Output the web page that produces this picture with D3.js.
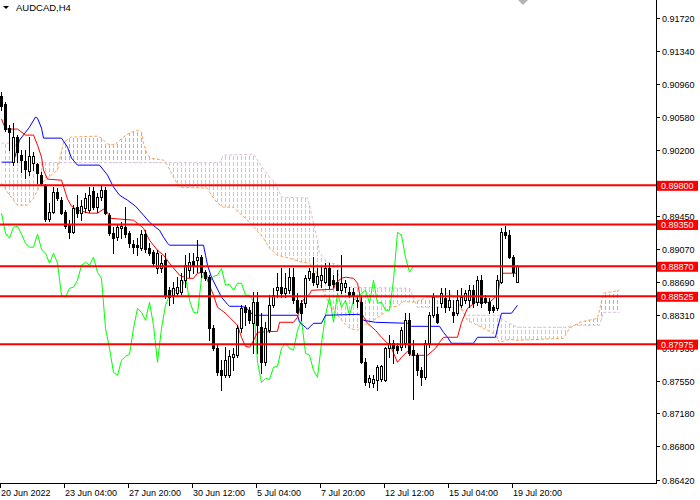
<!DOCTYPE html>
<html><head><meta charset="utf-8">
<script src="https://cdn.jsdelivr.net/npm/d3@7"></script>
<style>
html,body{margin:0;padding:0;background:#fff;}
svg{display:block;font-family:"Liberation Sans",Arial,sans-serif;}
</style></head>
<body>
<svg id="c" width="700" height="500"></svg>
<script>
// ---------------- DATA ----------------
const symbol = "AUDCAD,H4";
const dateLabels = ["20 Jun 2022","23 Jun 04:00","27 Jun 20:00","30 Jun 12:00","5 Jul 04:00","7 Jul 20:00","12 Jul 12:00","15 Jul 04:00","19 Jul 20:00"];
const dateLabelBars = [0,16,32,48,64,80,96,112,128];
const priceTicks = [0.91720,0.91340,0.90960,0.90580,0.90200,0.89450,0.89070,0.88690,0.88310,0.87930,0.87550,0.87180,0.86800,0.86420];
const levels = [0.89800,0.89350,0.88870,0.88525,0.87975];

const opens = [0.90825,0.90733,0.90457,0.90066,0.90354,0.90147,0.90078,0.89963,0.90055,0.90043,
0.89917,0.89802,0.89411,0.89491,0.89721,0.89629,0.89491,0.89353,0.89261,0.89549,
0.89480,0.89537,0.89514,0.89733,0.89549,0.89664,0.89744,0.89457,0.89250,0.89204,
0.89307,0.89319,0.89250,0.89123,0.89112,0.89077,0.89238,0.89077,0.89031,0.88847,
0.88847,0.88939,0.88594,0.88537,0.88560,0.88571,0.88709,0.88824,0.88928,0.88939,
0.88974,0.88801,0.88744,0.88157,0.87927,0.87674,0.87617,0.87617,0.87824,0.87847,
0.88157,0.88399,0.88364,0.88215,0.88456,0.88169,0.87766,0.88134,0.88422,0.88594,
0.88629,0.88560,0.88594,0.88744,0.88479,0.88445,0.88445,0.88732,0.88790,0.88663,
0.88709,0.88686,0.88847,0.88709,0.88686,0.88594,0.88629,0.88571,0.88571,0.88479,
0.88456,0.87766,0.87536,0.87525,0.87559,0.87571,0.87559,0.87927,0.87985,0.87950,
0.87939,0.87985,0.88249,0.87904,0.87847,0.87674,0.87594,0.87985,0.88307,0.88318,
0.88445,0.88502,0.88399,0.88341,0.88330,0.88422,0.88479,0.88479,0.88594,0.88456,
0.88709,0.88502,0.88456,0.88399,0.88387,0.88686,0.89261,0.89227,0.88974,0.88686];
const highs = [0.90871,0.90756,0.90492,0.90515,0.90377,0.90204,0.90204,0.90354,0.90181,0.90055,
0.89951,0.89813,0.89595,0.89779,0.89767,0.89664,0.89514,0.89399,0.89572,0.89687,
0.89629,0.89710,0.89779,0.89779,0.89710,0.89790,0.89779,0.89480,0.89319,0.89342,
0.89376,0.89549,0.89273,0.89169,0.89192,0.89284,0.89284,0.89135,0.89054,0.89054,
0.88997,0.89020,0.88629,0.88686,0.88744,0.88790,0.88997,0.89020,0.89020,0.89169,
0.88997,0.88824,0.88767,0.88192,0.87962,0.87789,0.87939,0.87904,0.87927,0.88192,
0.88422,0.88422,0.88399,0.88571,0.88571,0.88330,0.88226,0.88537,0.88617,0.88790,
0.88847,0.88790,0.88847,0.88847,0.88560,0.88479,0.88767,0.88847,0.88974,0.88847,
0.88859,0.88905,0.88905,0.88767,0.88824,0.88997,0.88709,0.88629,0.88617,0.88514,
0.88514,0.87812,0.87617,0.87617,0.87732,0.87732,0.87939,0.88077,0.88019,0.87985,
0.88169,0.88330,0.88330,0.88019,0.87870,0.87709,0.88019,0.88341,0.88560,0.88399,
0.88617,0.88617,0.88594,0.88479,0.88594,0.88617,0.88594,0.88652,0.88652,0.88755,
0.88767,0.88537,0.88502,0.88422,0.88767,0.89307,0.89330,0.89284,0.88997,0.88882];
const lows = [0.90664,0.90423,0.90204,0.90032,0.90066,0.89951,0.89882,0.89917,0.89974,0.89825,
0.89802,0.89388,0.89388,0.89480,0.89629,0.89468,0.89307,0.89192,0.89250,0.89434,
0.89399,0.89491,0.89491,0.89526,0.89491,0.89629,0.89468,0.89227,0.89020,0.89169,
0.89192,0.89204,0.89089,0.89020,0.88997,0.89054,0.89031,0.88997,0.88882,0.88790,
0.88801,0.88502,0.88422,0.88445,0.88537,0.88548,0.88629,0.88744,0.88790,0.88801,
0.88744,0.88709,0.88019,0.87904,0.87617,0.87444,0.87594,0.87594,0.87674,0.87824,
0.88111,0.88192,0.88215,0.87870,0.87870,0.87640,0.87732,0.88111,0.88399,0.88514,
0.88514,0.88514,0.88560,0.88445,0.88330,0.88249,0.88399,0.88709,0.88652,0.88629,
0.88629,0.88675,0.88617,0.88629,0.88594,0.88560,0.88571,0.88514,0.88445,0.88399,
0.87755,0.87502,0.87479,0.87479,0.87444,0.87548,0.87548,0.87824,0.87755,0.87870,
0.87904,0.87939,0.87847,0.87341,0.87617,0.87502,0.87571,0.87939,0.88284,0.88215,
0.88399,0.88341,0.88364,0.88226,0.88307,0.88399,0.88445,0.88399,0.88399,0.88422,
0.88399,0.88445,0.88330,0.88341,0.88364,0.88675,0.89192,0.88962,0.88755,0.88686];
const closes = [0.90710,0.90446,0.90411,0.90354,0.90181,0.90089,0.89986,0.90135,0.90135,0.89940,
0.89825,0.89411,0.89491,0.89721,0.89652,0.89480,0.89330,0.89261,0.89537,0.89480,
0.89560,0.89652,0.89687,0.89549,0.89664,0.89744,0.89480,0.89250,0.89192,0.89319,
0.89330,0.89238,0.89135,0.89089,0.89089,0.89238,0.89066,0.89020,0.88905,0.89020,
0.88905,0.88537,0.88514,0.88617,0.88629,0.88709,0.88882,0.88916,0.88882,0.88974,
0.88801,0.88732,0.88157,0.87927,0.87651,0.87617,0.87789,0.87835,0.87858,0.88157,
0.88387,0.88341,0.88249,0.88456,0.88192,0.87766,0.88157,0.88422,0.88537,0.88629,
0.88560,0.88617,0.88744,0.88479,0.88341,0.88330,0.88732,0.88813,0.88686,0.88755,
0.88767,0.88847,0.88652,0.88663,0.88594,0.88675,0.88675,0.88537,0.88537,0.88468,
0.87766,0.87536,0.87582,0.87571,0.87709,0.87720,0.87927,0.87985,0.87927,0.87904,
0.88134,0.88249,0.87870,0.87847,0.87674,0.87594,0.87985,0.88307,0.88514,0.88226,
0.88560,0.88399,0.88479,0.88307,0.88479,0.88514,0.88560,0.88594,0.88445,0.88709,
0.88445,0.88456,0.88364,0.88364,0.88709,0.89261,0.89227,0.88974,0.88801,0.88870];

// Ichimoku lines: [bar index, price] vertices
const tenkan = [[0,0.90561],[1,0.90446],[4,0.90446],[6,0.90377],[8,0.90377],[9,0.90262],[10,0.90124],[10.5,0.89974],[11.5,0.89871],[15,0.89859],[16.5,0.89641],[17.5,0.89560],[19,0.89514],[22,0.89480],[24,0.89480],[25.5,0.89526],[26.5,0.89491],[27,0.89422],[33,0.89399],[35.5,0.89307],[37,0.89169],[39,0.89054],[40.5,0.88997],[42,0.88905],[44.5,0.88767],[46.5,0.88732],[48,0.88732],[49,0.88790],[50.5,0.88801],[51.5,0.88709],[53,0.88537],[54,0.88399],[56,0.88330],[57,0.88284],[59,0.88192],[60,0.88054],[61,0.87950],[62,0.87939],[62.5,0.87973],[64,0.88111],[69,0.88123],[69.5,0.88226],[73,0.88226],[74,0.88284],[75,0.88456],[76,0.88514],[77,0.88548],[77.5,0.88594],[83,0.88606],[83.5,0.88675],[85,0.88732],[86,0.88744],[88,0.88732],[89,0.88675],[89.5,0.88560],[90,0.88330],[91.5,0.88215],[93.5,0.88134],[95,0.88054],[96.5,0.87985],[97.5,0.87927],[99,0.87766],[100,0.87824],[101.5,0.87893],[102.5,0.87847],[106.5,0.87847],[108.5,0.87927],[109.5,0.87996],[110.5,0.88054],[114,0.88054],[115,0.88226],[116.5,0.88387],[118.5,0.88456],[122,0.88456],[124,0.88537],[125,0.88790],[129,0.88790]];
const kijun = [[0,0.90066],[3,0.90066],[4.5,0.90319],[7,0.90469],[8.5,0.90584],[9,0.90572],[10,0.90457],[10.5,0.90342],[15,0.90342],[16.5,0.90239],[17.5,0.90112],[19,0.90032],[24.5,0.90032],[26.5,0.89917],[28,0.89779],[29.5,0.89687],[31.5,0.89629],[33.5,0.89560],[35.5,0.89457],[37,0.89376],[38.5,0.89319],[39.5,0.89284],[40.5,0.89204],[41.5,0.89135],[42,0.89112],[50.5,0.89112],[51,0.88997],[51.5,0.88882],[52.5,0.88744],[54,0.88606],[55,0.88514],[56.5,0.88433],[57,0.88410],[59.5,0.88410],[61,0.88399],[62,0.88353],[63,0.88307],[74,0.88307],[74.5,0.88226],[76,0.88169],[76.5,0.88146],[78,0.88215],[80,0.88215],[81,0.88307],[89.5,0.88318],[90.5,0.88249],[93.5,0.88226],[101.5,0.88215],[102.5,0.88180],[109.5,0.88180],[110.5,0.88111],[111.5,0.88054],[112.5,0.87985],[118,0.87985],[119,0.88054],[123.5,0.88054],[124,0.88157],[125,0.88330],[127.5,0.88330],[129,0.88422]];
const spanA = [[0,0.89825],[2,0.89687],[4,0.89572],[6.5,0.89572],[8,0.89652],[9,0.89744],[10,0.89825],[11.5,0.89882],[14,0.89974],[14.5,0.90089],[15.5,0.90296],[17.5,0.90354],[24,0.90365],[25,0.90342],[26.5,0.90273],[28.5,0.90262],[29,0.90296],[30.5,0.90354],[32,0.90400],[34,0.90434],[35,0.90411],[35.5,0.90285],[36.5,0.90147],[37.5,0.90112],[40.5,0.90089],[41.5,0.90032],[43,0.89894],[44.5,0.89779],[51.5,0.89767],[52.5,0.89687],[54,0.89595],[55.5,0.89549],[58,0.89549],[59.5,0.89480],[61.5,0.89399],[64,0.89273],[65.5,0.89192],[67,0.89077],[69,0.88997],[72,0.88962],[75,0.88916],[77,0.88905],[78.5,0.88824],[79.5,0.88675],[81.5,0.88479],[83,0.88364],[85.5,0.88226],[87,0.88157],[89,0.88134],[90.5,0.88192],[93,0.88249],[95.5,0.88330],[97,0.88399],[99,0.88410],[100.5,0.88468],[103,0.88456],[104.5,0.88479],[106.5,0.88514],[109.5,0.88514],[111,0.88560],[113.5,0.88525],[115.5,0.88341],[116.5,0.88249],[119,0.88192],[120.5,0.88157],[123,0.88100],[124.5,0.87996],[127,0.88031],[129,0.88019],[140.5,0.88042],[142,0.88157],[144.5,0.88226],[149,0.88272],[150.5,0.88560],[154.5,0.88594]];
const spanB = [[0,0.90285],[3.5,0.90285],[4,0.90060],[54.5,0.90060],[55.5,0.90147],[63,0.90158],[64,0.90089],[65,0.90020],[67,0.89894],[68.5,0.89825],[70,0.89664],[76.5,0.89652],[77,0.89572],[78,0.89365],[79,0.89169],[79.5,0.89020],[81.5,0.88916],[84,0.88893],[84.5,0.88675],[86.5,0.88629],[102,0.88617],[104,0.88399],[114.5,0.88399],[116,0.88307],[124.5,0.88307],[125.5,0.88249],[128,0.88192],[129,0.88169],[141.5,0.88169],[143,0.88192],[149.5,0.88192],[150.5,0.88341],[154.5,0.88341]];
const chikouShift = 26;

// ---------------- DRAW ----------------
const svg = d3.select("#c");
const plotRight = 656, plotBottom = 483;
const x = d3.scaleLinear().domain([0,160]).range([1.5,641.5]);
const y = d3.scaleLinear().domain([0.86420,0.91720]).range([479.5,18.2]);
const colA = "#F4A460", colB = "#D8BFD8";

const defs = svg.append("defs");
const areaBelow = d3.area().x(d=>x(d[0])).y0(d=>y(d[1])).y1(plotBottom);
const areaAbove = d3.area().x(d=>x(d[0])).y0(0).y1(d=>y(d[1]));
defs.append("clipPath").attr("id","belowA").append("path").attr("d",areaBelow(spanA));
defs.append("clipPath").attr("id","aboveB").append("path").attr("d",areaAbove(spanB));
defs.append("clipPath").attr("id","belowB").append("path").attr("d",areaBelow(spanB));
defs.append("clipPath").attr("id","aboveA").append("path").attr("d",areaAbove(spanA));
defs.append("clipPath").attr("id","plot").append("rect").attr("x",0).attr("y",0).attr("width",plotRight).attr("height",plotBottom);

const plot = svg.append("g").attr("clip-path","url(#plot)");

// cloud hatching: one dotted vertical per bar, orange where span A is above span B, thistle otherwise
const lastCloudBar = d3.max(spanA, d=>d[0]);
const bars = d3.range(0, Math.floor(lastCloudBar)+1);
function hatchGroup(outerClip, innerClip, color){
  const g = plot.append("g").attr("clip-path",`url(#${outerClip})`)
    .append("g").attr("clip-path",`url(#${innerClip})`);
  g.selectAll("line").data(bars).join("line")
    .attr("x1",d=>Math.round(x(d)-0.5)+0.5).attr("x2",d=>Math.round(x(d)-0.5)+0.5)
    .attr("y1",0).attr("y2",plotBottom)
    .attr("stroke",color).attr("stroke-width",1).attr("stroke-dasharray","4,2")
    .attr("shape-rendering","crispEdges");
}
hatchGroup("belowA","aboveB",colA);
hatchGroup("belowB","aboveA",colB);

const line = d3.line().x(d=>x(d[0])).y(d=>y(d[1]));
plot.append("path").attr("d",line(spanB)).attr("fill","none").attr("stroke",colB).attr("stroke-width",1).attr("stroke-dasharray","3,2");
plot.append("path").attr("d",line(spanA)).attr("fill","none").attr("stroke",colA).attr("stroke-width",1).attr("stroke-dasharray","3,2");

// chikou span: closes shifted back
const chikou = closes.map((c,i)=>[i-chikouShift,c]).filter(d=>d[0]>=0);
plot.append("path").attr("d",line(chikou)).attr("fill","none").attr("stroke","#00FF00").attr("stroke-width",1);
plot.append("path").attr("d",line(kijun)).attr("fill","none").attr("stroke","#0000FF").attr("stroke-width",1);
plot.append("path").attr("d",line(tenkan)).attr("fill","none").attr("stroke","#FF0000").attr("stroke-width",1);

// candles
const cg = plot.append("g").attr("shape-rendering","crispEdges");
opens.forEach((o,i)=>{
  const c = closes[i], h = highs[i], l = lows[i];
  const cx = x(i);
  cg.append("line").attr("x1",cx).attr("x2",cx).attr("y1",Math.round(y(h))).attr("y2",Math.round(y(l))+1).attr("stroke","#000");
  const top = Math.round(y(Math.max(o,c))), bot = Math.round(y(Math.min(o,c)));
  if (c > o) {
    cg.append("rect").attr("x",cx-1).attr("y",top+0.5).attr("width",2).attr("height",Math.max(bot-top,1))
      .attr("fill","#fff").attr("stroke","#000").attr("stroke-width",1);
  } else {
    cg.append("rect").attr("x",cx-1.5).attr("y",top).attr("width",3).attr("height",Math.max(bot-top,1)+1)
      .attr("fill","#000");
  }
});

// horizontal levels
levels.forEach(v=>{
  plot.append("line").attr("x1",0).attr("x2",plotRight).attr("y1",y(v)).attr("y2",y(v))
    .attr("stroke","#FF0000").attr("stroke-width",2);
});

// axes
const ax = svg.append("g").attr("shape-rendering","crispEdges");
ax.append("line").attr("x1",plotRight+0.5).attr("x2",plotRight+0.5).attr("y1",0).attr("y2",plotBottom+0.5).attr("stroke","#000");
ax.append("line").attr("x1",0).attr("x2",plotRight+0.5).attr("y1",plotBottom+0.5).attr("y2",plotBottom+0.5).attr("stroke","#000");

priceTicks.forEach(v=>{
  const yy = Math.round(y(v))+0.5;
  ax.append("line").attr("x1",plotRight).attr("x2",plotRight+4).attr("y1",yy).attr("y2",yy).attr("stroke","#000");
  svg.append("text").attr("x",662).attr("y",yy).attr("dy","0.35em").attr("font-size","9px").attr("fill","#000").text(v.toFixed(5));
});

dateLabels.forEach((t,k)=>{
  const xx = Math.round(x(dateLabelBars[k])-1.5)+0.5;
  ax.append("line").attr("x1",xx).attr("x2",xx).attr("y1",plotBottom).attr("y2",plotBottom+5).attr("stroke","#000");
  svg.append("text").attr("x",xx+0.5).attr("y",496).attr("font-size","9px").attr("fill","#000").text(t);
});

// level labels
levels.forEach(v=>{
  const yy = y(v);
  svg.append("rect").attr("x",657).attr("y",yy-4.5).attr("width",41).attr("height",10).attr("fill","#FF0000");
  svg.append("text").attr("x",661).attr("y",yy+0.5).attr("dy","0.36em").attr("font-size","9px").attr("fill","#fff").text(v.toFixed(5));
});

// title
svg.append("path").attr("d","M3,6 L9,6 L6,9 Z").attr("fill","#000");
svg.append("text").attr("x",16).attr("y",11).attr("font-size","9.5px").attr("fill","#000").text(symbol);
// shift marker
svg.append("path").attr("d","M518,0 L528,0 L523,5 Z").attr("fill","#B4B4B4");
</script>
</body></html>
